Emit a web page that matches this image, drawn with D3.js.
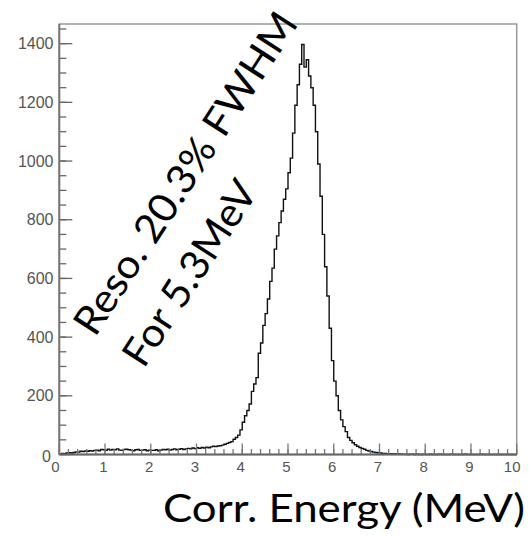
<!DOCTYPE html>
<html>
<head>
<meta charset="utf-8">
<script src="https://cdn.jsdelivr.net/npm/d3@7"></script>
<style>
  html, body { margin: 0; padding: 0; background: #fff; }
  svg { display: block; }
</style>
</head>
<body>
<svg id="chart" width="529" height="537"></svg>
<script>
// ---- data ----
const xMin = 0, xMax = 10, binWidth = 0.05;
const counts = [
  2,4,3,5,6,5,
  7,9,8,11,10,12,11,13,12,14,
  15,13,17,16,14,18,15,17,16,19,15,14,17,18,16,15,13,16,17,14,15,16,13,15,14,
  14,16,13,15,17,16,18,15,17,19,16,18,20,17,19,
  21,19,22,20,23,21,24,22,25,23,26,28,27,29,
  30,32,35,38,41,44,52,58,66,84,
  110,132,150,172,215,240,262,345,380,440,
  480,530,590,635,700,745,790,830,870,905,
  960,1010,1095,1190,1260,1330,1397,1320,1345,1290,
  1250,1190,1100,990,880,750,640,540,430,320,
  250,200,150,118,95,78,58,48,40,33,
  28,24,21,18,14,12,10,8,7,6,
  5,4,4,3,3,3,2,2,2,1,
  1,1,0,1,1,0,1,0,0,1,
  0,0,1,0,0,0,1,0,0,0,
  0,1,0,0,0,0,0,1,0,0,
  0,0,0,0,1,0,0,0,0,0,
  0,0,0,0,0,0,0,0,0,0
];
const xTicks = [0,1,2,3,4,5,6,7,8,9,10];
const yTicks = [0,200,400,600,800,1000,1200,1400];
const yMax = 1467;
const xTitle = "Corr. Energy (MeV)";
const noteLines = ["Reso. 20.3% FWHM", "For 5.3MeV"];

// ---- layout ----
const svg = d3.select("#chart");
const L = 59.3, R = 516.7, T = 24, B = 454.5;
const x = d3.scaleLinear().domain([xMin, xMax]).range([L, R]);
const y = d3.scaleLinear().domain([0, yMax]).range([B, T]);

// frame
svg.append("rect")
  .attr("x", L).attr("y", T).attr("width", R - L).attr("height", B - T)
  .attr("fill", "none").attr("stroke", "#999").attr("stroke-width", 1.5);

// histogram (step)
const pts = counts.map((c, i) => ({ e: xMin + i * binWidth, v: c }));
pts.push({ e: xMin + counts.length * binWidth, v: counts[counts.length - 1] });
const line = d3.line().x(d => x(d.e)).y(d => y(d.v)).curve(d3.curveStepAfter);
svg.append("path").datum(pts)
  .attr("d", line).attr("fill", "none")
  .attr("stroke", "#111").attr("stroke-width", 1.4);

// x axis (ticks pointing up)
const xMinor = d3.range(xMin, xMax + 1e-9, 0.2);
const gx = svg.append("g");
gx.selectAll("line.minor").data(xMinor).join("line")
  .attr("x1", d => x(d)).attr("x2", d => x(d))
  .attr("y1", B).attr("y2", B - 5.5)
  .attr("stroke", "#777").attr("stroke-width", 1.3);
gx.selectAll("line.major").data(xTicks).join("line")
  .attr("x1", d => x(d)).attr("x2", d => x(d))
  .attr("y1", B).attr("y2", B - 11)
  .attr("stroke", "#777").attr("stroke-width", 1.3);
gx.append("line").attr("x1", L).attr("x2", R).attr("y1", B).attr("y2", B)
  .attr("stroke", "#666").attr("stroke-width", 1.8);
gx.selectAll("text").data(xTicks).join("text")
  .attr("x", d => x(d) - (d === 10 ? 4.5 : (d === 0 ? 4 : 1.5)))
  .attr("y", 471.5)
  .attr("text-anchor", "middle")
  .attr("font-family", "'Liberation Sans', Arial, sans-serif")
  .attr("font-size", 15).attr("fill", "#555")
  .text(d => d);

// y axis (ticks pointing right)
const yMinor = d3.range(0, yMax, 50);
const gy = svg.append("g");
gy.selectAll("line.minor").data(yMinor).join("line")
  .attr("x1", L).attr("x2", L + 7)
  .attr("y1", d => y(d)).attr("y2", d => y(d))
  .attr("stroke", "#666").attr("stroke-width", 1.3);
gy.selectAll("line.major").data(yTicks).join("line")
  .attr("x1", L).attr("x2", L + 13)
  .attr("y1", d => y(d)).attr("y2", d => y(d))
  .attr("stroke", "#666").attr("stroke-width", 1.3);
gy.append("line").attr("x1", L).attr("x2", L).attr("y1", T).attr("y2", B)
  .attr("stroke", "#777").attr("stroke-width", 2);
gy.selectAll("text").data(yTicks).join("text")
  .attr("x", d => d === 0 ? 51 : 53.5)
  .attr("y", d => y(d) + (d === 0 ? 7 : 5.5))
  .attr("text-anchor", "end")
  .attr("font-family", "'Liberation Sans', Arial, sans-serif")
  .attr("font-size", 16).attr("fill", "#555")
  .text(d => d);

// axis title
svg.append("text")
  .attr("x", 163).attr("y", 522)
  .attr("font-family", "Lato, 'Open Sans', sans-serif")
  .attr("font-size", 39).attr("fill", "#000")
  .attr("textLength", 362).attr("lengthAdjust", "spacingAndGlyphs")
  .text(xTitle);

// rotated annotation
const note = svg.append("g").attr("transform", "translate(95,338) rotate(-57)");
note.selectAll("text").data(noteLines).join("text")
  .attr("x", 0).attr("y", (d, i) => i * 58)
  .attr("font-family", "Lato, 'Open Sans', sans-serif")
  .attr("font-size", 40).attr("fill", "#000")
  .attr("textLength", (d, i) => i === 0 ? 375 : 212)
  .attr("lengthAdjust", "spacingAndGlyphs")
  .text(d => d);
</script>
</body>
</html>
